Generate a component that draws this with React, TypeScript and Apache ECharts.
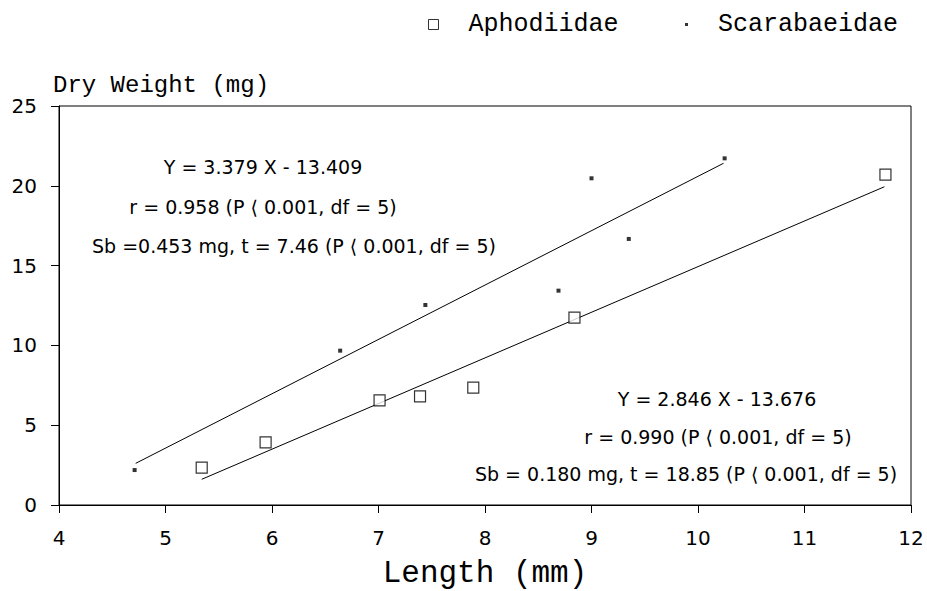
import React, { useEffect, useRef } from "react";
import * as echarts from "echarts";

// Aphodiidae (open squares)
const aphodiidaeLength = [5.34, 5.94, 7.01, 7.39, 7.89, 8.84, 11.76];
const aphodiidaeWeight = [2.34, 3.93, 6.56, 6.81, 7.35, 11.74, 20.7];
// Scarabaeidae (small dots)
const scarabLength = [4.71, 6.64, 7.44, 8.69, 9.0, 9.35, 10.25];
const scarabWeight = [2.19, 9.67, 12.53, 13.43, 20.47, 16.67, 21.72];
// Fitted regression lines (end points)
const scarabFitX = [4.72, 10.24];
const scarabFitY = [2.61, 21.41];
const aphodiidaeFitX = [5.34, 11.75];
const aphodiidaeFitY = [1.61, 19.94];
// Statistics text
const scarabStats = [
  "Y = 3.379 X - 13.409",
  "r = 0.958 (P ⟨ 0.001, df = 5)",
  "Sb =0.453 mg, t = 7.46 (P ⟨ 0.001, df = 5)",
];
const aphodiidaeStats = [
  "Y = 2.846 X - 13.676",
  "r = 0.990 (P ⟨ 0.001, df = 5)",
  "Sb = 0.180 mg, t = 18.85 (P ⟨ 0.001, df = 5)",
];
const seriesNames = ["Aphodiidae", "Scarabaeidae"];
const xAxisTitle = "Length (mm)";
const yAxisTitle = "Dry Weight (mg)";

const zip = (a: number[], b: number[]) => a.map((v, i) => [v, b[i]]);

export default function App() {
  const ref = useRef<HTMLDivElement>(null);
  useEffect(() => {
    if (!ref.current) return;
    const chart = echarts.init(ref.current, undefined, { renderer: "svg" });
    const mono = "Liberation Mono";
    const sans = "DejaVu Sans";
    const statStyle = (text: string, x: number, y: number) => ({
      type: "text",
      x,
      y,
      style: {
        text,
        fontFamily: sans,
        fontSize: 19,
        fill: "#000",
        textAlign: "center",
        textVerticalAlign: "middle",
      },
    });
    const scarabPos = [
      [263, 167],
      [263, 207],
      [294, 246],
    ];
    const aphoPos = [
      [717, 399],
      [718, 437],
      [686, 474],
    ];
    chart.setOption({
      animation: false,
      backgroundColor: "#fff",
      legend: [
        {
          data: [seriesNames[0]],
          left: 423,
          top: 7,
          itemWidth: 10,
          itemHeight: 10,
          icon: "rect",
          itemStyle: { color: "#fff", borderColor: "#000", borderWidth: 1 },
          textStyle: {
            fontFamily: mono,
            fontSize: 25,
            color: "#000",
            padding: [0, 0, 0, 25],
          },
        },
        {
          data: [seriesNames[1]],
          left: 680,
          top: 7,
          itemWidth: 3,
          itemHeight: 3,
          icon: "rect",
          itemStyle: { color: "#000" },
          textStyle: {
            fontFamily: mono,
            fontSize: 25,
            color: "#000",
            padding: [0, 0, 0, 25],
          },
        },
      ],
      grid: {
        left: 59,
        right: 16,
        top: 106,
        bottom: 86,
        containLabel: false,
        outerBoundsMode: "none",
        show: true,
        borderColor: "#000",
        borderWidth: 1,
        backgroundColor: "transparent",
      },
      xAxis: {
        type: "value",
        min: 4,
        max: 12,
        interval: 1,
        name: xAxisTitle,
        nameLocation: "middle",
        nameGap: 68,
        nameTextStyle: {
          fontFamily: mono,
          fontSize: 31,
          color: "#000",
          verticalAlign: "middle",
        },
        axisLine: { lineStyle: { color: "#000", width: 1 } },
        axisTick: { inside: false, length: 8, lineStyle: { color: "#000" } },
        axisLabel: { fontFamily: sans, fontSize: 20, color: "#000", margin: 23 },
        splitLine: { show: false },
      },
      yAxis: {
        type: "value",
        min: 0,
        max: 25,
        interval: 5,
        name: yAxisTitle,
        nameLocation: "end",
        nameGap: 9,
        nameTextStyle: {
          fontFamily: mono,
          fontSize: 24,
          color: "#000",
          align: "left",
          verticalAlign: "bottom",
          padding: [0, 0, 0, -6],
        },
        axisLine: { show: true, lineStyle: { color: "#000", width: 1 } },
        axisTick: { show: true, inside: false, length: 8, lineStyle: { color: "#000" } },
        axisLabel: { fontFamily: sans, fontSize: 20, color: "#000", margin: 22 },
        splitLine: { show: false },
      },
      series: [
        {
          name: "Scarabaeidae fit",
          type: "line",
          data: zip(scarabFitX, scarabFitY),
          showSymbol: false,
          symbol: "none",
          silent: true,
          lineStyle: { color: "#000", width: 1 },
          z: 1,
        },
        {
          name: "Aphodiidae fit",
          type: "line",
          data: zip(aphodiidaeFitX, aphodiidaeFitY),
          showSymbol: false,
          symbol: "none",
          silent: true,
          lineStyle: { color: "#000", width: 1 },
          z: 1,
        },
        {
          name: seriesNames[0],
          type: "scatter",
          data: zip(aphodiidaeLength, aphodiidaeWeight),
          symbol: "rect",
          symbolSize: 11,
          itemStyle: { color: "#fff", borderColor: "#000", borderWidth: 1.2 },
          z: 3,
        },
        {
          name: seriesNames[1],
          type: "scatter",
          data: zip(scarabLength, scarabWeight),
          symbol: "rect",
          symbolSize: 4,
          itemStyle: { color: "#000" },
          z: 3,
        },
      ],
      graphic: [
        ...scarabStats.map((t, i) => statStyle(t, scarabPos[i][0], scarabPos[i][1])),
        ...aphodiidaeStats.map((t, i) => statStyle(t, aphoPos[i][0], aphoPos[i][1])),
      ],
    });
    return () => chart.dispose();
  }, []);
  return (
    <div
      ref={ref}
      style={{ position: "fixed", left: 0, top: 0, width: 927, height: 591 }}
    />
  );
}
